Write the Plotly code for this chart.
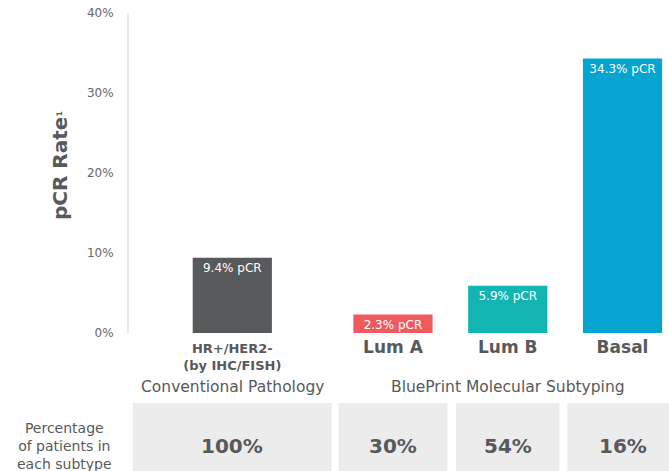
import plotly.graph_objects as go

# ---- data ----
categories = ["HR+/HER2-<br>(by IHC/FISH)", "Lum A", "Lum B", "Basal"]
pcr_rates = [9.4, 2.3, 5.9, 34.3]
patient_share = ["100%", "30%", "54%", "16%"]
group_labels = ["Conventional Pathology", "BluePrint Molecular Subtyping"]
y_ticks = [0, 10, 20, 30, 40]
y_tick_labels = ["0%", "10%", "20%", "30%", "40%"]

# ---- styling / layout ----
positions = [0, 1.4, 2.4, 3.4]
bar_colors = ["#58595b", "#ef5a5f", "#13b5b2", "#05a5d0"]
box_half = [0.867, 0.475, 0.45, 0.48]
x_range = [-0.9, 3.805]
W, H = 669, 471
ML, MR, MT, MB = 129, 0, 13, 138
plot_w = W - ML - MR
plot_h = H - MT - MB
TXT = "#58595b"
FONT = "DejaVu Sans"


def x_to_paper(xd):
    return (xd - x_range[0]) / (x_range[1] - x_range[0])


def ypx_to_paper(ypx):
    return (H - MB - ypx) / plot_h


def xpx_to_paper(xpx):
    return (xpx - ML) / plot_w


tick_text = [f"<b>{categories[0]}</b>"] + [
    f"<span style='font-size:17px'><b>{c}</b></span>" for c in categories[1:]
]

fig = go.Figure()
fig.add_trace(go.Bar(
    x=positions,
    y=pcr_rates,
    width=0.69,
    marker=dict(color=bar_colors, line=dict(width=0)),
    text=[f"{v}% pCR" for v in pcr_rates],
    textposition="inside",
    insidetextanchor="end",
    textangle=0,
    textfont=dict(color="white", size=12, family=FONT),
    hoverinfo="skip",
))

shapes = []
for p, hw in zip(positions, box_half):
    shapes.append(dict(
        type="rect", xref="paper", yref="paper",
        x0=x_to_paper(p - hw), x1=x_to_paper(p + hw),
        y0=ypx_to_paper(480), y1=ypx_to_paper(403),
        fillcolor="#ececec", line=dict(width=0), layer="below",
    ))

annotations = []
for p, s in zip(positions, patient_share):
    annotations.append(dict(
        x=p, xref="x", y=ypx_to_paper(446), yref="paper",
        text=f"<b>{s}</b>", showarrow=False,
        font=dict(family=FONT, size=20, color=TXT),
        xanchor="center", yanchor="middle",
    ))
annotations.append(dict(
    x=positions[0], xref="x", y=ypx_to_paper(387), yref="paper",
    text=group_labels[0], showarrow=False,
    font=dict(family=FONT, size=15.5, color=TXT),
    xanchor="center", yanchor="middle",
))
annotations.append(dict(
    x=positions[2], xref="x", y=ypx_to_paper(387), yref="paper",
    text=group_labels[1], showarrow=False,
    font=dict(family=FONT, size=15.5, color=TXT),
    xanchor="center", yanchor="middle",
))
annotations.append(dict(
    x=xpx_to_paper(64), xref="paper", y=ypx_to_paper(446), yref="paper",
    text="Percentage<br>of patients in<br>each subtype", showarrow=False,
    font=dict(family=FONT, size=14, color=TXT), align="center",
    xanchor="center", yanchor="middle",
))
annotations.append(dict(
    x=xpx_to_paper(60), xref="paper", y=ypx_to_paper(166), yref="paper",
    text="<b>pCR Rate<span style='font-size:11px'><sup>1</sup></span></b>",
    showarrow=False, textangle=-90,
    font=dict(family=FONT, size=20, color=TXT),
    xanchor="center", yanchor="middle",
))

fig.update_layout(
    width=W, height=H,
    margin=dict(l=ML, r=MR, t=MT, b=MB, autoexpand=False),
    paper_bgcolor="white", plot_bgcolor="white",
    showlegend=False,
    uniformtext=dict(mode="show", minsize=12),
    shapes=shapes,
    annotations=annotations,
    xaxis=dict(
        range=x_range, tickvals=positions, ticktext=tick_text,
        showline=False, showgrid=False, zeroline=False, ticks="",
        tickfont=dict(family=FONT, size=13, color=TXT),
        ticklabelstandoff=6, automargin=False, fixedrange=True,
    ),
    yaxis=dict(
        range=[0, 40], tickvals=y_ticks, ticktext=y_tick_labels,
        showline=True, linecolor="#e8e8e8", linewidth=2,
        showgrid=False, zeroline=False, ticks="",
        tickfont=dict(family=FONT, size=12, color="#666666"),
        ticklabelstandoff=11, automargin=False, fixedrange=True,
    ),
)

fig.write_html(
    "out.html",
    config={"displayModeBar": False},
    post_script="document.body.style.margin='0';document.body.style.overflow='hidden';",
)
